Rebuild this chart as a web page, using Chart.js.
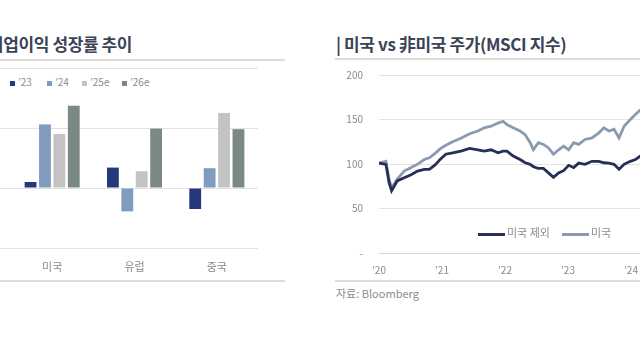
<!DOCTYPE html>
<html>
<head>
<meta charset="utf-8">
<script src="https://cdn.jsdelivr.net/npm/chart.js@4.4.0/dist/chart.umd.min.js"></script>
<style>
  html, body { margin: 0; padding: 0; background: #fff; }
  body { width: 640px; height: 360px; overflow: hidden; position: relative; font-family: "Noto Sans CJK KR", "Noto Sans", sans-serif; }
  .title { position: absolute; top: 31px; font-size: 17px; font-weight: bold; color: #3b4357; white-space: nowrap; letter-spacing: -0.4px; }
  .rule { position: absolute; height: 2px; background: #dcdcdc; }
  .legend { position: absolute; font-size: 10px; color: #8c8c8c; white-space: nowrap; }
  .legend .item { position: absolute; top: 0; }
  .legend span.sw { display: inline-block; vertical-align: middle; }
  .src { position: absolute; left: 336px; top: 285px; font-size: 11px; color: #8c8c8c; }
  canvas { position: absolute; }
</style>
</head>
<body>
<div class="title" style="left:-12px">기업이익 성장률 추이</div>
<div class="rule" style="left:0; width:285px; top:59px"></div>
<div class="rule" style="left:0; width:285px; top:280px"></div>
<div id="barLegend" class="legend" style="left:0; top:74px"></div>
<canvas id="barChart" width="300" height="218" style="left:-40px; top:58px"></canvas>

<div class="title" style="left:336px">| 미국 vs 非미국 주가(MSCI 지수)</div>
<div class="rule" style="left:335px; width:305px; top:58px"></div>
<div class="rule" style="left:335px; width:305px; top:280px"></div>
<canvas id="lineChart" width="364" height="213" style="left:330px; top:65px"></canvas>
<div id="lineLegend" class="legend" style="left:478px; top:224px; font-size:11px"></div>
<div class="src">자료: Bloomberg</div>

<script>
// left: earnings growth by region
const regions = ['미국', '유럽', '중국'];
const barSeries = ['\u201923', '\u201924', '\u201925e', '\u201926e'];
const barColors = ['#24387a', '#7f9cbf', '#c3c3c3', '#7b8984'];
const g23 = [1.0, 3.4, -3.5];
const g24 = [10.6, -3.9, 3.3];
const g25e = [9.0, 2.8, 12.5];
const g26e = [13.7, 9.9, 9.8];

// right: MSCI index, US vs ex-US (decimal years)
const dates = [2020.00, 2020.11, 2020.16, 2020.20, 2020.29, 2020.40, 2020.51, 2020.61, 2020.72, 2020.80,
  2020.89, 2020.97, 2021.06, 2021.17, 2021.30, 2021.44, 2021.57, 2021.67, 2021.78, 2021.89, 2021.97,
  2022.03, 2022.13, 2022.24, 2022.32, 2022.40, 2022.45, 2022.53, 2022.61, 2022.69, 2022.77, 2022.85,
  2022.93, 2023.01, 2023.09, 2023.17, 2023.27, 2023.38, 2023.49, 2023.57, 2023.65, 2023.73, 2023.81,
  2023.89, 2023.99, 2024.07, 2024.15];
const usIndex = [101, 103, 83, 73, 83, 92, 96, 99.6, 105, 107,
  112, 117, 121, 125, 129, 134, 137, 140.7, 142.5, 146, 148,
  144.4, 140.7, 137, 133, 124, 116, 124, 122, 118, 111, 116,
  120, 116, 124, 122, 127.6, 129.4, 135, 140.7, 137, 139, 129.4,
  142.5, 150, 155.6, 161];
const exUsIndex = [101, 99.6, 79, 70, 81, 84.6, 88, 92, 94, 94,
  99, 105, 111, 112.6, 114.5, 117.5, 116, 114.5, 116, 112.6, 114.5,
  114.5, 109, 105, 101.4, 99.6, 97, 95, 95, 90, 85, 90,
  92.5, 98.5, 96, 101, 99.6, 103, 103, 101.4, 101, 99.6, 94,
  99.6, 103, 105, 109];
const yTicks = [0, 50, 100, 150, 200];
const lineNames = ['미국 제외', '미국'];
const lineColors = ['#262f55', '#8a9bb1'];

const tickFont = { family: '"Noto Sans CJK KR", "Noto Sans", sans-serif', size: 10 };
const catFont = { family: '"Noto Sans CJK KR", "Noto Sans", sans-serif', size: 11 };

// bar legend, one item per series
const barLegend = document.getElementById('barLegend');
const legendLeft = [10, 47, 82, 122];
barSeries.forEach((name, i) => {
    const item = document.createElement('span');
    item.className = 'item';
    item.style.left = legendLeft[i] + 'px';
    item.innerHTML = `<span class="sw" style="width:5px;height:5px;background:${barColors[i]};margin-right:3px"></span>${name}`;
    barLegend.appendChild(item);
});

new Chart(document.getElementById('barChart'), {
    type: 'bar',
    data: {
        labels: regions,
        datasets: [g23, g24, g25e, g26e].map((d, i) => ({
            label: barSeries[i],
            data: d,
            backgroundColor: barColors[i],
            categoryPercentage: 0.7,
            barPercentage: 0.82
        }))
    },
    options: {
        responsive: false,
        animation: false,
        layout: { padding: { top: 10, right: 2, left: 0, bottom: 0 } },
        plugins: { legend: { display: false }, tooltip: { enabled: false } },
        scales: {
            x: {
                grid: { display: false },
                border: { display: false },
                ticks: { color: '#8a8a8a', font: catFont, padding: 4 },
                afterFit: s => { s.height = 28; s.paddingLeft = 0; s.paddingRight = 0; }
            },
            y: {
                min: -10, max: 20,
                ticks: { stepSize: 10, color: 'rgba(0,0,0,0)', font: tickFont, padding: 4 },
                grid: { color: '#e2e2e2', drawTicks: true, tickLength: 12 },
                border: { display: false },
                afterFit: s => { s.width = 51; s.paddingTop = 0; s.paddingBottom = 0; }
            }
        }
    }
});

// line legend
const lineLegend = document.getElementById('lineLegend');
lineNames.forEach((name, i) => {
    const item = document.createElement('span');
    item.style.marginRight = '12px';
    item.innerHTML = `<span class="sw" style="width:27px;height:3px;background:${lineColors[i]};margin-right:2px"></span>${name}`;
    lineLegend.appendChild(item);
});

new Chart(document.getElementById('lineChart'), {
    type: 'line',
    data: {
        datasets: [exUsIndex, usIndex].map((vals, i) => ({
            label: lineNames[i],
            data: dates.map((t, k) => ({ x: t, y: vals[k] })),
            borderColor: lineColors[i],
            borderWidth: 2.8,
            pointRadius: 0,
            tension: 0,
            order: i === 0 ? 0 : 1
        }))
    },
    options: {
        responsive: false,
        animation: false,
        layout: { padding: { top: 10, right: 0, left: 0, bottom: 0 } },
        plugins: { legend: { display: false }, tooltip: { enabled: false } },
        scales: {
            x: {
                type: 'linear',
                min: 2020, max: 2025,
                grid: { display: false },
                border: { color: '#d6d6d6' },
                ticks: {
                    stepSize: 1, color: '#8a8a8a', font: tickFont, padding: 3,
                    callback: v => '\u2019' + String(v).slice(2)
                },
                afterFit: s => { s.height = 25; s.paddingLeft = 0; s.paddingRight = 0; }
            },
            y: {
                min: 0, max: 200,
                afterBuildTicks: s => { s.ticks = yTicks.map(v => ({ value: v })); },
                ticks: { color: '#8a8a8a', font: tickFont, padding: 16, callback: v => v === 0 ? '-' : v },
                grid: { color: '#e4e4e4', drawTicks: false },
                border: { display: false },
                afterFit: s => { s.width = 49; s.paddingTop = 0; s.paddingBottom = 0; }
            }
        }
    }
});
</script>
</body>
</html>
